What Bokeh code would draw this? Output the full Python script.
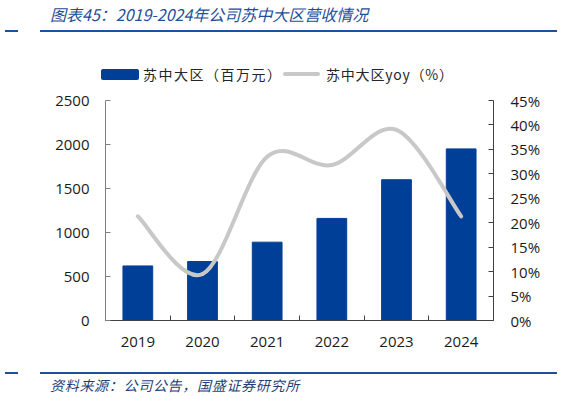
import numpy as np
from bokeh.plotting import figure
from bokeh.layouts import column
from bokeh.models import (Range1d, LinearAxis, FixedTicker, Div, PrintfTickFormatter)
from bokeh.embed import file_html
from bokeh.resources import INLINE

# ---- data ----
years = ["2019", "2020", "2021", "2022", "2023", "2024"]
revenue = [620, 670, 890, 1160, 1600, 1950]          # 苏中大区（百万元）
yoy = [21.3, 9.5, 33.5, 31.8, 39.0, 21.3]             # 苏中大区yoy（%）
left_ticks = [0, 500, 1000, 1500, 2000, 2500]
right_ticks = [0, 5, 10, 15, 20, 25, 30, 35, 40, 45]

title_text = "图表45：2019-2024年公司苏中大区营收情况"
source_text = "资料来源：公司公告，国盛证券研究所"
bar_label = "苏中大区（百万元）"
line_label = "苏中大区yoy（%）"

W = 562
TOP_H, FIG_H, BOT_H = 90, 272, 36
FL, FR = 105, 493           # frame left/right in px
FT_IN, FB_IN = 10, 230      # frame top/bottom inside the figure

BLUE = "#003f98"
GRAY = "#c8c8c8"
LINE = "#1c4f9c"
TICK_FONT = "Open Sans"
CJK = "Noto Sans CJK SC"

p = figure(width=W, height=FIG_H, output_backend="svg", toolbar_location=None,
           x_range=Range1d(-0.5, len(years) - 0.5), y_range=Range1d(0, 2500),
           min_border_left=FL, min_border_right=W - FR,
           min_border_top=FT_IN, min_border_bottom=FIG_H - FB_IN,
           x_axis_location=None, y_axis_location=None, margin=0)
p.outline_line_color = None
p.xgrid.visible = False
p.ygrid.visible = False
p.extra_y_ranges = {"right": Range1d(0, 45)}

xs = list(range(len(years)))

# bars
p.vbar(x=xs, top=revenue, width=0.46, fill_color=BLUE, line_color=BLUE)

# smooth yoy line through the data points (cubic Bezier segments)
n = len(yoy)
px = np.array(xs, dtype=float)
py = np.array(yoy, dtype=float)
ext_x = np.concatenate([[px[0]], px, [px[-1]]])
ext_y = np.concatenate([[py[0]], py, [py[-1]]])
x0, y0, x1, y1, cx0, cy0, cx1, cy1 = [], [], [], [], [], [], [], []
for i in range(n - 1):
    j = i + 1
    x0.append(px[i]); y0.append(py[i]); x1.append(px[i + 1]); y1.append(py[i + 1])
    cx0.append(px[i] + (ext_x[j + 1] - ext_x[j - 1]) / 6)
    cy0.append(py[i] + (ext_y[j + 1] - ext_y[j - 1]) / 6)
    cx1.append(px[i + 1] - (ext_x[j + 2] - ext_x[j]) / 6)
    cy1.append(py[i + 1] - (ext_y[j + 2] - ext_y[j]) / 6)
p.bezier(x0=x0, y0=y0, x1=x1, y1=y1, cx0=cx0, cy0=cy0, cx1=cx1, cy1=cy1,
         y_range_name="right", line_color=GRAY, line_width=4, line_cap="round")

# axes
left = LinearAxis(ticker=FixedTicker(ticks=left_ticks))
left.axis_line_color = "#808080"
left.major_tick_line_color = "#808080"
left.major_tick_in = 5
left.major_tick_out = 0
left.minor_tick_line_color = None
left.major_label_standoff = 16
left.major_label_text_font = TICK_FONT
left.major_label_text_font_size = "15px"
left.major_label_text_color = "#1a1a1a"
p.add_layout(left, "left")

right = LinearAxis(y_range_name="right", ticker=FixedTicker(ticks=right_ticks),
                   formatter=PrintfTickFormatter(format="%d%%"))
right.axis_line_color = "#404040"
right.major_tick_line_color = "#404040"
right.major_tick_in = 5
right.major_tick_out = 0
right.minor_tick_line_color = None
right.major_label_standoff = 17
right.major_label_text_font = TICK_FONT
right.major_label_text_font_size = "15px"
right.major_label_text_color = "#1a1a1a"
p.add_layout(right, "right")

bottom = LinearAxis(ticker=FixedTicker(ticks=xs, minor_ticks=[i - 0.5 for i in range(len(years) + 1)]),
                    major_label_overrides={i: y for i, y in enumerate(years)})
bottom.axis_line_color = "#404040"
bottom.major_tick_line_color = None
bottom.minor_tick_line_color = "#404040"
bottom.minor_tick_in = 5
bottom.minor_tick_out = 0
bottom.major_label_standoff = 10
bottom.major_label_text_font = TICK_FONT
bottom.major_label_text_font_size = "15px"
bottom.major_label_text_color = "#1a1a1a"
p.add_layout(bottom, "below")

# ---- header: title, rule, legend ----
def box(left, top, w, h, color, radius=0):
    return (f'<div style="position:absolute;left:{left}px;top:{top}px;width:{w}px;'
            f'height:{h}px;background:{color};border-radius:{radius}px"></div>')

def txt(left, top, s, size, color, italic=False, lh=20, ls=0):
    st = "italic" if italic else "normal"
    return (f'<div style="position:absolute;left:{left}px;top:{top}px;font-size:{size}px;'
            f'line-height:{lh}px;font-style:{st};color:{color};white-space:nowrap;'
            f'letter-spacing:{ls}px;font-family:\'{CJK}\'">{s}</div>')

top_html = (f'<div style="position:relative;width:{W}px;height:{TOP_H}px;overflow:hidden">'
            + txt(50, 4, title_text, 16, "#1f4e9a", italic=True)
            + box(5, 30, 13, 2, LINE) + box(40, 30, 517, 2, LINE)
            + box(101, 69, 38, 11, BLUE, 2)
            + txt(143, 64, bar_label, 14, "#262626", ls=1.5)
            + box(283, 72, 37, 4, GRAY, 2)
            + txt(326, 64, line_label, 14, "#262626", ls=0.8)
            + '</div>')

bot_html = (f'<div style="position:relative;width:{W}px;height:{BOT_H}px;overflow:hidden">'
            + box(5, 10, 13, 2, LINE) + box(40, 10, 517, 2, LINE)
            + txt(50, 13, source_text, 14, "#1f3f7a", italic=True, ls=0.7)
            + '</div>')

header = Div(text=top_html, width=W, height=TOP_H, margin=0)
footer = Div(text=bot_html, width=W, height=BOT_H, margin=0)

layout = column(header, p, footer, spacing=0, margin=0)

open("out.html", "w").write(file_html(layout, INLINE))
